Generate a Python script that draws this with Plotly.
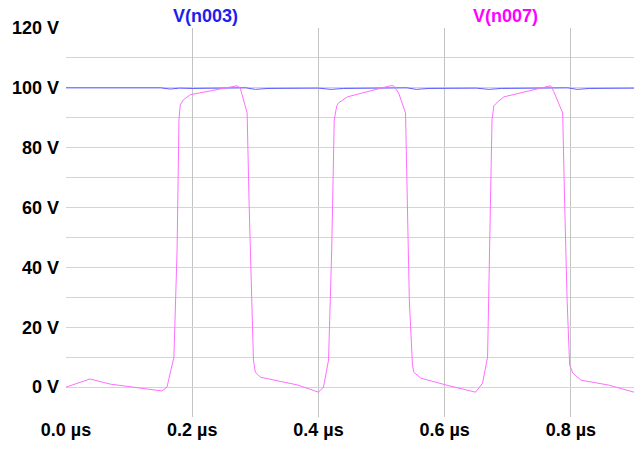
import plotly.graph_objects as go

# time in microseconds
t_n007 = [0, 0.019, 0.038, 0.070, 0.106, 0.133, 0.152, 0.160, 0.168, 0.171, 0.176, 0.179, 0.181, 0.186, 0.197,
          0.268, 0.271, 0.276, 0.287, 0.290, 0.294, 0.297, 0.300, 0.308, 0.367, 0.400, 0.408, 0.416, 0.421,
          0.425, 0.429, 0.432, 0.446, 0.514, 0.519, 0.527, 0.538, 0.541, 0.544, 0.549, 0.551, 0.562, 0.602,
          0.649, 0.660, 0.668, 0.671, 0.675, 0.678, 0.684, 0.694, 0.765, 0.768, 0.773, 0.787, 0.790, 0.794,
          0.798, 0.803, 0.816, 0.859, 0.900]
v_n007 = [0, 1.3, 2.7, 1.0, 0.0, -0.7, -1.3, 0.0, 6.7, 10.0, 45.8, 89.3, 94.3, 96.0, 97.7,
          100.7, 100.7, 100.0, 91.6, 62.5, 29.1, 9.0, 5.0, 3.3, 0.7, -1.7, 0.0, 9.0, 45.8,
          89.3, 94.0, 95.0, 97.0, 100.7, 100.7, 98.3, 91.6, 62.5, 29.1, 7.4, 5.0, 3.0, 0.7,
          -1.7, 1.3, 10.0, 45.8, 89.3, 94.0, 95.3, 97.0, 100.7, 100.7, 98.7, 91.6, 62.5, 29.1,
          7.4, 4.7, 2.3, 0.7, -1.7]

t_n003 = [0, 0.150, 0.165, 0.180, 0.200, 0.260, 0.285, 0.300, 0.320, 0.400, 0.420, 0.440, 0.510,
          0.540, 0.555, 0.575, 0.650, 0.670, 0.690, 0.760, 0.795, 0.810, 0.830, 0.900]
v_n003 = [100, 100, 99.6, 99.9, 99.8, 100, 100, 99.5, 99.8, 99.9, 99.5, 99.8, 100,
          100, 99.5, 99.8, 99.9, 99.5, 99.8, 100, 100, 99.5, 99.8, 99.9]

y_tickvals = [0, 20, 40, 60, 80, 100, 120]
y_ticktext = ["0 V", "20 V", "40 V", "60 V", "80 V", "100 V", "120 V"]
x_tickvals = [0.0, 0.2, 0.4, 0.6, 0.8]
x_ticktext = ["0.0 µs", "0.2 µs", "0.4 µs", "0.6 µs", "0.8 µs"]

fig = go.Figure()
fig.add_trace(go.Scatter(x=t_n003, y=v_n003, mode="lines", name="V(n003)",
                         line=dict(color="rgb(90,90,255)", width=1)))
fig.add_trace(go.Scatter(x=t_n007, y=v_n007, mode="lines", name="V(n007)",
                         line=dict(color="rgb(255,110,255)", width=1)))

tick_font = dict(size=18, family="Liberation Sans, Arial, sans-serif", weight="bold", color="black")

W, H = 638, 449
L, R, T, B = 66, 4, 28, 32

fig.update_layout(
    width=W, height=H,
    margin=dict(l=L, r=R, t=T, b=B),
    plot_bgcolor="white", paper_bgcolor="white",
    showlegend=False,
    xaxis=dict(range=[0, 0.9], tickvals=x_tickvals, ticktext=x_ticktext,
               showgrid=True, gridcolor="#c4c4c4", gridwidth=1, zeroline=False,
               showline=False, ticks="", tickfont=tick_font),
    yaxis=dict(range=[-10, 120], tickvals=y_tickvals, ticktext=y_ticktext,
               showgrid=True, gridcolor="#d4d4d4", gridwidth=1, zeroline=False,
               showline=False, ticks="", ticklabelstandoff=6, tickfont=tick_font,
               minor=dict(tickvals=[-10, 10, 30, 50, 70, 90, 110], showgrid=True,
                          gridcolor="#d4d4d4", gridwidth=1)),
)

pw = W - L - R
ph = H - T - B
for label, cx, cy, col in [("V(n003)", 205, 16, "rgb(30,30,235)"), ("V(n007)", 505, 16, "rgb(255,0,255)")]:
    fig.add_annotation(text="<b>" + label + "</b>", xref="paper", yref="paper",
                       x=(cx - L) / pw, y=(H - B - cy) / ph,
                       xanchor="center", yanchor="middle", showarrow=False,
                       font=dict(size=18, color=col, family="Liberation Sans, Arial, sans-serif"))

fig.write_html("out.html", config={"displayModeBar": False},
               post_script="document.body.style.margin='0';")
